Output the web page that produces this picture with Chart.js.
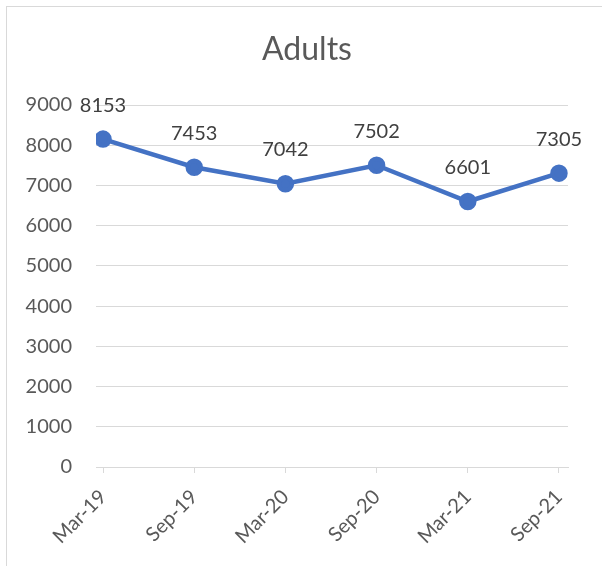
<!DOCTYPE html>
<html>
<head>
<meta charset="utf-8">
<script src="https://cdn.jsdelivr.net/npm/chart.js@4"></script>
<style>
  html, body { margin: 0; padding: 0; background: #fff; overflow: hidden; }
  #wrap { position: relative; width: 602px; height: 566px; }
  #frame { position: absolute; left: 6px; top: 6px; width: 640px; height: 640px; border: 1px solid #d9d9d9; box-sizing: border-box; }
  canvas { position: absolute; left: 0; top: 0; }
</style>
</head>
<body>
<div id="wrap">
  <div id="frame"></div>
  <canvas id="adultsChart" width="602" height="566"></canvas>
</div>
<script>
// chart data
const chartTitle = 'Adults';
const periods = ['Mar-19', 'Sep-19', 'Mar-20', 'Sep-20', 'Mar-21', 'Sep-21'];
const adults = [8153, 7453, 7042, 7502, 6601, 7305];
const yTicks = [0, 1000, 2000, 3000, 4000, 5000, 6000, 7000, 8000, 9000];

const fontFamily = 'Lato, "Noto Sans", sans-serif';
const textGrey = '#595959';
const lineBlue = '#4472C4';
const gridGrey = '#d9d9d9';

// title (centred on the frame, not the plot) + value labels above each point
const extras = {
    id: 'extras',
    afterDatasetsDraw(chart) {
        const ctx = chart.ctx;
        const meta = chart.getDatasetMeta(0);
        ctx.save();
        ctx.textAlign = 'center';
        ctx.textBaseline = 'middle';

        ctx.font = '32px ' + fontFamily;
        ctx.fillStyle = textGrey;
        ctx.fillText(chartTitle, 307, 50);

        ctx.font = '20px ' + fontFamily;
        ctx.fillStyle = '#404040';
        meta.data.forEach((pt, i) => {
            ctx.fillText(String(adults[i]), pt.x, pt.y - 34);
        });
        ctx.restore();
    }
};

new Chart('adultsChart', {
    type: 'line',
    data: {
        datasets: [{
            label: chartTitle,
            data: adults.map((v, i) => ({ x: i, y: v })),
            borderColor: lineBlue,
            backgroundColor: lineBlue,
            borderWidth: 4.5,
            pointRadius: 6.5,
            pointHoverRadius: 6.5,
            pointBackgroundColor: lineBlue,
            pointBorderColor: lineBlue,
            tension: 0
        }]
    },
    options: {
        responsive: false,
        animation: false,
        events: [],
        layout: { padding: { left: 0, right: 34, top: 105, bottom: 0 } },
        plugins: {
            legend: { display: false },
            tooltip: { enabled: false },
            title: { display: false }
        },
        scales: {
            x: {
                type: 'linear',
                min: -0.077,
                max: 5.099,
                afterBuildTicks: scale => {
                    scale.ticks = periods.map((p, i) => ({ value: i }));
                },
                afterFit: scale => { scale.height = 99; },
                ticks: {
                    callback: v => periods[v],
                    color: textGrey,
                    font: { family: fontFamily, size: 20 },
                    minRotation: 45,
                    maxRotation: 45,
                    autoSkip: false,
                    padding: 12
                },
                grid: {
                    drawOnChartArea: false,
                    color: gridGrey,
                    tickLength: 6
                },
                border: { display: true, color: gridGrey }
            },
            y: {
                min: 0,
                max: 9000,
                afterBuildTicks: scale => {
                    scale.ticks = yTicks.map(v => ({ value: v }));
                },
                afterFit: scale => { scale.width = 96; },
                ticks: {
                    callback: v => String(v),
                    color: textGrey,
                    font: { family: fontFamily, size: 20 },
                    padding: 24
                },
                grid: { color: gridGrey, drawTicks: false },
                border: { display: false }
            }
        }
    },
    plugins: [extras]
});
</script>
</body>
</html>
